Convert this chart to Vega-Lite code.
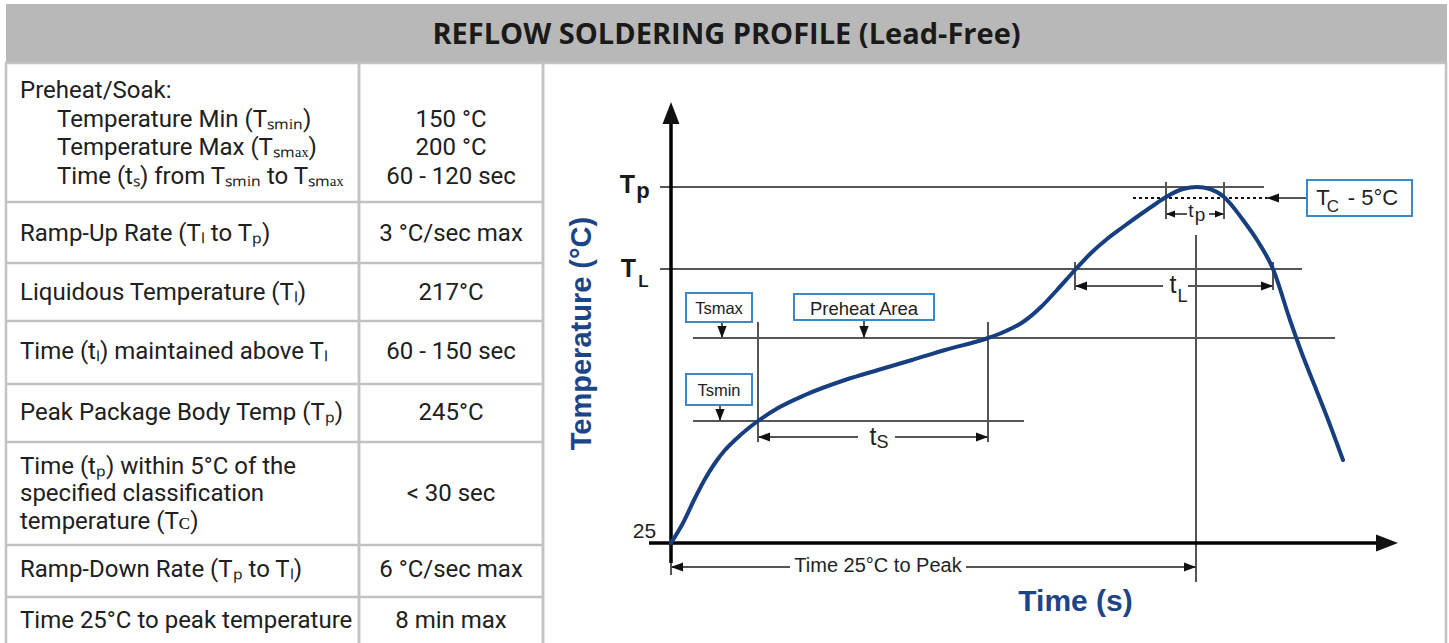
{
  "$schema": "https://vega.github.io/schema/vega-lite/v6.json",
  "padding": {"left": 3, "top": 4, "right": 0, "bottom": 0},
  "background": "white",
  "spacing": 0,
  "bounds": "flush",
  "config": {"view": {"stroke": null}, "concat": {"spacing": 0}},
  "datasets": {
    "rowEdges": [{"edge": 4.88}, {"edge": 7.02}, {"edge": 9.05}, {"edge": 11.26}, {"edge": 13.3}, {"edge": 16.91}, {"edge": 18.74}],
    "labels": [
      {"line": 0.98, "indent": 0, "label": "Preheat/Soak:"},
      {"line": 2.0, "indent": 1, "label": "Temperature Min (Tₛₘᵢₙ)"},
      {"line": 2.98, "indent": 1, "label": "Temperature Max (Tₛₘₐₓ)"},
      {"line": 4.0, "indent": 1, "label": "Time (tₛ) from Tₛₘᵢₙ to Tₛₘₐₓ"},
      {"line": 6.0, "indent": 0, "label": "Ramp-Up Rate (Tₗ to Tₚ)"},
      {"line": 8.07, "indent": 0, "label": "Liquidous Temperature (Tₗ)"},
      {"line": 10.14, "indent": 0, "label": "Time (tₗ) maintained above Tₗ"},
      {"line": 12.28, "indent": 0, "label": "Peak Package Body Temp (Tₚ)"},
      {"line": 14.18, "indent": 0, "label": "Time (tₚ) within 5°C of the"},
      {"line": 15.12, "indent": 0, "label": "specified classification"},
      {"line": 16.11, "indent": 0, "label": "temperature (Tᴄ)"},
      {"line": 17.79, "indent": 0, "label": "Ramp-Down Rate (Tₚ to Tₗ)"},
      {"line": 19.58, "indent": 0, "label": "Time 25°C to peak temperature"}
    ],
    "values": [
      {"line": 2.0, "value": "150 °C"},
      {"line": 2.98, "value": "200 °C"},
      {"line": 4.0, "value": "60 - 120 sec"},
      {"line": 6.0, "value": "3 °C/sec max"},
      {"line": 8.07, "value": "217°C"},
      {"line": 10.14, "value": "60 - 150 sec"},
      {"line": 12.28, "value": "245°C"},
      {"line": 15.12, "value": "< 30 sec"},
      {"line": 17.79, "value": "6 °C/sec max"},
      {"line": 19.58, "value": "8 min max"}
    ],
    "curve": [
      {"time": 0, "temp": 0}, {"time": 12, "temp": 20}, {"time": 24, "temp": 45}, {"time": 34, "temp": 64},
      {"time": 44, "temp": 80}, {"time": 54, "temp": 93}, {"time": 64, "temp": 103}, {"time": 79, "temp": 116},
      {"time": 87, "temp": 122}, {"time": 107, "temp": 135}, {"time": 134, "temp": 148}, {"time": 174, "temp": 163},
      {"time": 207, "temp": 173}, {"time": 241, "temp": 183}, {"time": 274, "temp": 193}, {"time": 317, "temp": 205},
      {"time": 335, "temp": 212}, {"time": 352, "temp": 221}, {"time": 370, "temp": 236}, {"time": 386, "temp": 253},
      {"time": 404, "temp": 273}, {"time": 419, "temp": 289}, {"time": 436, "temp": 304}, {"time": 452, "temp": 316},
      {"time": 470, "temp": 329}, {"time": 486, "temp": 340}, {"time": 495, "temp": 346}, {"time": 512, "temp": 354},
      {"time": 526, "temp": 356}, {"time": 539, "temp": 354}, {"time": 553, "temp": 346}, {"time": 572, "temp": 323},
      {"time": 586, "temp": 303}, {"time": 602, "temp": 274}, {"time": 619, "temp": 223}, {"time": 630, "temp": 192},
      {"time": 643, "temp": 159}, {"time": 656, "temp": 126}, {"time": 672, "temp": 83}
    ],
    "guides": [
      {"time": -11, "time2": 593, "temp": 356, "temp2": 356},
      {"time": -11, "time2": 631, "temp": 274, "temp2": 274},
      {"time": 22, "time2": 664, "temp": 205, "temp2": 205},
      {"time": 22, "time2": 353, "temp": 122, "temp2": 122},
      {"time": 87, "time2": 187, "temp": 106, "temp2": 106},
      {"time": 224, "time2": 317, "temp": 106, "temp2": 106},
      {"time": 404, "time2": 492, "temp": 257, "temp2": 257},
      {"time": 517, "time2": 602, "temp": 257, "temp2": 257},
      {"time": 495, "time2": 516, "temp": 329, "temp2": 329},
      {"time": 538, "time2": 553, "temp": 329, "temp2": 329},
      {"time": 0, "time2": 119, "temp": -24, "temp2": -24},
      {"time": 295, "time2": 525, "temp": -24, "temp2": -24},
      {"time": 596, "time2": 636, "temp": 345, "temp2": 345},
      {"time": 87, "time2": 87, "temp": 101, "temp2": 221},
      {"time": 317, "time2": 317, "temp": 101, "temp2": 221},
      {"time": 404, "time2": 404, "temp": 253, "temp2": 281},
      {"time": 602, "time2": 602, "temp": 253, "temp2": 281},
      {"time": 495, "time2": 495, "temp": 324, "temp2": 361},
      {"time": 553, "time2": 553, "temp": 324, "temp2": 361},
      {"time": 525, "time2": 525, "temp": -39, "temp2": 308},
      {"time": 0, "time2": 0, "temp": -32, "temp2": -20},
      {"time": 51, "time2": 51, "temp": 205, "temp2": 221},
      {"time": 193, "time2": 193, "temp": 205, "temp2": 223},
      {"time": 49, "time2": 49, "temp": 122, "temp2": 138}
    ],
    "dotted": [{"time": 462, "time2": 596, "temp": 345, "temp2": 345}],
    "axes": [
      {"time": 0, "time2": 0, "temp": -20, "temp2": 421},
      {"time": -22, "time2": 706, "temp": 0, "temp2": 0}
    ],
    "heads": [
      {"time": 0, "temp": 441, "dir": "up", "kind": "big"},
      {"time": 727, "temp": 0, "dir": "right", "kind": "big"},
      {"time": 87, "temp": 106, "dir": "left", "kind": "small"},
      {"time": 317, "temp": 106, "dir": "right", "kind": "small"},
      {"time": 404, "temp": 257, "dir": "left", "kind": "small"},
      {"time": 602, "temp": 257, "dir": "right", "kind": "small"},
      {"time": 495, "temp": 329, "dir": "left", "kind": "tiny"},
      {"time": 553, "temp": 329, "dir": "right", "kind": "tiny"},
      {"time": 0, "temp": -24, "dir": "left", "kind": "small"},
      {"time": 525, "temp": -24, "dir": "right", "kind": "small"},
      {"time": 596, "temp": 345, "dir": "left", "kind": "small"},
      {"time": 51, "temp": 205, "dir": "down", "kind": "small"},
      {"time": 193, "temp": 205, "dir": "down", "kind": "small"},
      {"time": 49, "temp": 122, "dir": "down", "kind": "small"}
    ],
    "boxes": [
      {"time": 15, "time2": 81, "temp": 221, "temp2": 250},
      {"time": 123, "time2": 263, "temp": 223, "temp2": 249},
      {"time": 15, "time2": 81, "temp": 138, "temp2": 169},
      {"time": 636, "time2": 741, "temp": 327, "temp2": 363}
    ],
    "notes": [
      {"time": -26.5, "temp": 5, "text": "25", "role": "tick"},
      {"time": 207, "temp": -29, "text": "Time 25°C to Peak", "role": "note"},
      {"time": 48, "temp": 229, "text": "Tsmax", "role": "box"},
      {"time": 193, "temp": 228, "text": "Preheat Area", "role": "area"},
      {"time": 48, "temp": 147, "text": "Tsmin", "role": "box"},
      {"time": 202, "temp": 98, "text": "t", "role": "t"},
      {"time": 211.5, "temp": 95, "text": "S", "role": "tsub"},
      {"time": 502, "temp": 250, "text": "t", "role": "t"},
      {"time": 511.5, "temp": 241, "text": "L", "role": "tsub"},
      {"time": 520, "temp": 326, "text": "t", "role": "tpeak"},
      {"time": 529, "temp": 322, "text": "p", "role": "tpeak"},
      {"time": 652, "temp": 338, "text": "T", "role": "tc"},
      {"time": 662, "temp": 331, "text": "C", "role": "csub"},
      {"time": 702, "temp": 338, "text": "- 5°C", "role": "tc"}
    ],
    "levels": [
      {"time": -43.5, "temp": 350, "text": "T", "role": "T"},
      {"time": -28, "temp": 345, "text": "p", "role": "psub"},
      {"time": -42.5, "temp": 266, "text": "T", "role": "T"},
      {"time": -27.5, "temp": 256, "text": "L", "role": "lsub"}
    ],
    "titles": [
      {"time": 404.5, "temp": -68, "text": "Time (s)"}
    ],
    "ytitle": [
      {"time": -80, "temp": 209.5, "text": "Temperature (°C)"}
    ]
  },
  "vconcat": [
    {
      "width": 1441,
      "height": 59,
      "view": {"fill": "#b8b8b8", "stroke": null},
      "data": {"values": [{"title": "REFLOW SOLDERING PROFILE (Lead-Free)"}]},
      "mark": {"type": "text", "font": "Open Sans", "fontWeight": "bold", "fontSize": 29, "color": "#1a1a1a", "baseline": "middle", "align": "center", "dy": 1},
      "encoding": {"text": {"field": "title"}}
    },
    {
      "spacing": 0,
      "bounds": "flush",
      "hconcat": [
        {
          "width": 353,
          "height": 582,
          "view": {"stroke": "#c2c2c2", "strokeWidth": 2.5},
          "layer": [
            {
              "data": {"name": "rowEdges"},
              "mark": {"type": "rule", "color": "#c2c2c2", "strokeWidth": 2.5},
              "encoding": {"y": {"field": "edge", "type": "quantitative", "scale": {"domain": [0, 20.42], "reverse": true, "nice": false, "zero": false}, "axis": null}}
            },
            {
              "data": {"name": "labels"},
              "mark": {"type": "text", "align": "left", "baseline": "middle", "font": "Roboto", "fontSize": 24, "color": "#202020"},
              "encoding": {
                "x": {"field": "indent", "type": "quantitative", "scale": {"domain": [0, 1], "range": [14, 51], "nice": false, "zero": false}, "axis": null},
                "y": {"field": "line", "type": "quantitative", "scale": {"domain": [0, 20.42], "reverse": true, "nice": false, "zero": false}, "axis": null},
                "text": {"field": "label"}
              }
            }
          ]
        },
        {
          "width": 184,
          "height": 582,
          "view": {"stroke": "#c2c2c2", "strokeWidth": 2.5},
          "layer": [
            {
              "data": {"name": "rowEdges"},
              "mark": {"type": "rule", "color": "#c2c2c2", "strokeWidth": 2.5},
              "encoding": {"y": {"field": "edge", "type": "quantitative", "scale": {"domain": [0, 20.42], "reverse": true, "nice": false, "zero": false}, "axis": null}}
            },
            {
              "data": {"name": "values"},
              "mark": {"type": "text", "align": "center", "baseline": "middle", "font": "Roboto", "fontSize": 24, "color": "#202020"},
              "encoding": {
                "y": {"field": "line", "type": "quantitative", "scale": {"domain": [0, 20.42], "reverse": true, "nice": false, "zero": false}, "axis": null},
                "text": {"field": "value"}
              }
            }
          ]
        },
        {
          "width": 903,
          "height": 582,
          "view": {"stroke": "#c2c2c2", "strokeWidth": 2.5},
          "resolve": {"scale": {"shape": "independent"}},
          "encoding": {
            "x": {"field": "time", "type": "quantitative", "scale": {"domain": [-128, 775], "nice": false, "zero": false}, "axis": null},
            "y": {"field": "temp", "type": "quantitative", "scale": {"domain": [-102, 480], "nice": false, "zero": false}, "axis": null}
          },
          "layer": [
            {
              "data": {"name": "guides"},
              "mark": {"type": "rule", "color": "#555555", "strokeWidth": 2},
              "encoding": {"x2": {"field": "time2"}, "y2": {"field": "temp2"}}
            },
            {
              "data": {"name": "dotted"},
              "mark": {"type": "rule", "color": "#111111", "strokeWidth": 2, "strokeDash": [3, 3]},
              "encoding": {"x2": {"field": "time2"}, "y2": {"field": "temp2"}}
            },
            {
              "data": {"name": "axes"},
              "mark": {"type": "rule", "color": "#000000", "strokeWidth": 3.5},
              "encoding": {"x2": {"field": "time2"}, "y2": {"field": "temp2"}}
            },
            {
              "data": {"name": "boxes"},
              "mark": {"type": "rect", "fill": "white", "stroke": "#3d87c6", "strokeWidth": 2},
              "encoding": {"x2": {"field": "time2"}, "y2": {"field": "temp2"}}
            },
            {
              "data": {"name": "curve"},
              "mark": {"type": "line", "interpolate": "monotone", "color": "#173f80", "strokeWidth": 4, "strokeCap": "round"},
              "encoding": {}
            },
            {
              "data": {"name": "heads"},
              "mark": {"type": "point", "filled": true, "color": "#111111", "opacity": 1, "strokeWidth": 0},
              "encoding": {
                "shape": {"field": "dir", "type": "nominal", "scale": {"domain": ["up", "down", "left", "right"], "range": ["M0,0L-0.77,2L0.77,2Z", "M0,0L-0.77,-2L0.77,-2Z", "M0,0L2,-0.77L2,0.77Z", "M0,0L-2,-0.77L-2,0.77Z"]}, "legend": null},
                "size": {"condition": [{"test": "datum.kind === 'big'", "value": 484}, {"test": "datum.kind === 'tiny'", "value": 81}], "value": 144}
              }
            },
            {
              "data": {"name": "notes"},
              "mark": {"type": "text", "font": "Liberation Sans", "color": "#222222", "align": "center", "baseline": "alphabetic"},
              "encoding": {
                "text": {"field": "text"},
                "size": {"condition": [
                  {"test": "datum.role === 'tick'", "value": 21},
                  {"test": "datum.role === 'box'", "value": 16.5},
                  {"test": "datum.role === 'area'", "value": 18.5},
                  {"test": "datum.role === 't'", "value": 25},
                  {"test": "datum.role === 'tsub'", "value": 18},
                  {"test": "datum.role === 'tpeak'", "value": 19},
                  {"test": "datum.role === 'tc'", "value": 22},
                  {"test": "datum.role === 'csub'", "value": 17}
                ], "value": 20}
              }
            },
            {
              "data": {"name": "levels"},
              "mark": {"type": "text", "font": "Liberation Sans", "fontWeight": "bold", "color": "#1a1a1a", "align": "center", "baseline": "alphabetic"},
              "encoding": {
                "text": {"field": "text"},
                "size": {"condition": [
                  {"test": "datum.role === 'psub'", "value": 22},
                  {"test": "datum.role === 'lsub'", "value": 17}
                ], "value": 25}
              }
            },
            {
              "data": {"name": "titles"},
              "mark": {"type": "text", "font": "Liberation Sans", "fontWeight": "bold", "fontSize": 30, "color": "#1c4587", "align": "center", "baseline": "alphabetic"},
              "encoding": {"text": {"field": "text"}}
            },
            {
              "data": {"name": "ytitle"},
              "mark": {"type": "text", "font": "Liberation Sans", "fontWeight": "bold", "fontSize": 29, "color": "#1c4587", "align": "center", "baseline": "alphabetic", "angle": 270},
              "encoding": {"text": {"field": "text"}}
            }
          ]
        }
      ]
    }
  ]
}
